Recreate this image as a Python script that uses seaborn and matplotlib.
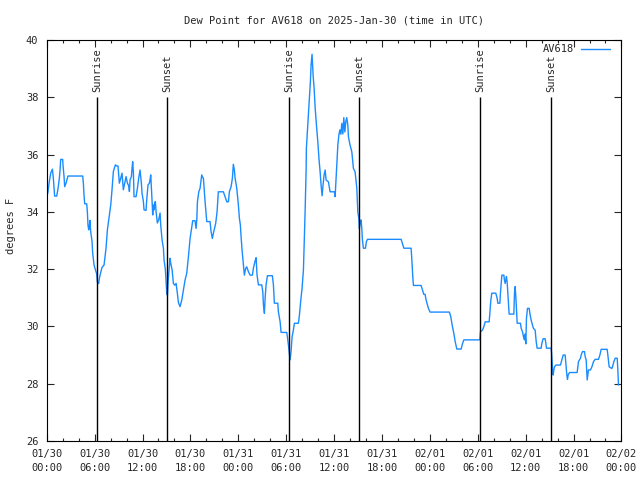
import pandas as pd
import numpy as np
import matplotlib
matplotlib.use("Agg")
import matplotlib.pyplot as plt
import matplotlib.dates as mdates
import seaborn as sns

# hours after 2025-01-30 00:00 UTC and dew point (deg F)
hours = [0.05, 0.16, 0.29, 0.50, 0.71, 0.83, 0.99, 1.25, 1.42, 1.58, 1.67, 1.75, 2.00, 2.04, 2.17, 2.25,
         2.42, 2.58, 2.67, 4.51, 4.59, 4.67, 4.76, 5.01, 5.09, 5.17, 5.26, 5.34, 5.42, 5.51, 5.68,
         5.76, 5.93, 6.09, 6.26, 6.34, 6.51, 6.60, 6.76, 6.93, 7.18, 7.43, 7.60, 7.85, 8.02, 8.18,
         8.35, 8.60, 8.77, 8.93, 9.02, 9.10, 9.27, 9.43, 9.60, 9.77, 9.94, 10.11, 10.27, 10.36,
         10.44, 10.61, 10.69, 10.77, 10.86, 10.94, 11.19, 11.36, 11.52, 11.69, 11.77, 11.86, 11.94,
         12.11, 12.19, 12.44, 12.53, 12.69, 12.86, 12.94, 13.03, 13.11, 13.19, 13.28, 13.36, 13.45,
         13.53, 13.61, 13.70, 13.86, 14.03, 14.20, 14.28, 14.45, 14.62, 14.70, 14.87, 14.95, 15.04,
         15.12, 15.20, 15.37, 15.45, 15.54, 15.71, 15.87, 16.04, 16.21, 16.37, 16.50, 16.70, 16.92,
         17.12, 17.33, 17.54, 17.75, 17.96, 18.17, 18.29, 18.58, 18.71, 18.80, 18.88, 19.05, 19.21,
         19.42, 19.55, 19.63, 19.84, 20.05, 20.46, 20.59, 20.75, 20.88, 21.17, 21.34, 21.50, 22.13,
         22.34, 22.56, 22.76, 22.88, 23.10, 23.26, 23.38, 23.51, 23.60, 23.81, 24.01, 24.14, 24.26,
         24.35, 24.47, 24.64, 24.76, 24.93, 25.06, 25.27, 25.48, 25.77, 25.89, 26.10, 26.23, 26.35,
         26.52, 26.94, 27.07, 27.15, 27.27, 27.36, 27.48, 27.65, 28.27, 28.40, 28.52, 28.95, 29.02,
         29.24, 29.36, 30.07, 30.15, 30.28, 30.49, 30.61, 30.74, 30.90, 31.03, 31.53, 31.66, 31.83,
         31.99, 32.16, 32.28, 32.37, 32.50, 32.53, 32.70, 32.87, 33.03, 33.12, 33.24, 33.37, 33.50,
         33.62, 33.79, 33.96, 34.12, 34.25, 34.37, 34.50, 34.62, 34.75, 34.88, 35.00, 35.29, 35.50,
         36.04, 36.13, 36.30, 36.47, 36.60, 36.72, 36.85, 36.97, 37.10, 37.22, 37.35, 37.47, 37.59,
         37.72, 37.80, 38.00, 38.22, 38.42, 38.63, 38.85, 38.97, 39.10, 39.17, 39.26, 39.38, 39.47,
         39.55, 39.67, 39.93, 40.05, 40.18, 44.40, 44.56, 44.74, 45.65, 45.73, 45.86, 45.94, 46.90,
         47.07, 47.24, 47.40, 47.53, 47.70, 47.82, 48.03, 50.45, 50.62, 50.79, 51.00, 51.17, 51.38,
         51.92, 52.08, 52.26, 54.26, 54.34, 54.59, 54.76, 54.93, 55.43, 55.51, 55.64, 55.76, 56.26,
         56.43, 56.52, 56.77, 56.84, 56.93, 57.02, 57.27, 57.34, 57.43, 57.52, 57.59, 57.68, 57.77,
         57.85, 57.93, 58.52, 58.60, 58.68, 58.77, 58.85, 58.94, 59.35, 59.44, 59.60, 59.73, 59.85,
         59.94, 60.02, 60.10, 60.23, 60.44, 60.56, 60.69, 60.85, 60.98, 61.19, 61.32, 61.44, 61.94,
         62.03, 62.19, 62.44, 62.53, 62.61, 63.20, 63.28, 63.37, 63.45, 63.53, 63.61, 63.78, 64.36,
         64.54, 64.70, 64.95, 65.04, 65.16, 65.24, 65.32, 65.49, 66.45, 66.54, 66.62, 66.87, 66.95,
         67.12, 67.37, 67.46, 67.58, 67.71, 67.79, 67.87, 68.12, 68.30, 68.50, 68.71, 69.12, 69.30,
         69.46, 70.21, 70.30, 70.46, 70.80, 70.88, 71.05, 71.22, 71.47, 71.55, 71.63]
dewpoint = [34.55, 34.70, 35.00, 35.35, 35.49, 35.17, 34.55, 34.55, 34.82, 35.17, 35.46, 35.83, 35.83, 35.63, 35.23, 34.88,
            35.00, 35.17, 35.25, 35.25, 35.00, 34.59, 34.28, 34.28, 34.01, 33.54, 33.37, 33.49, 33.70, 33.31, 32.96,
            32.55, 32.14, 31.99, 31.83, 31.56, 31.50, 31.68, 31.88, 32.06, 32.14, 32.73, 33.37, 33.89, 34.24, 34.77,
            35.41, 35.64, 35.60, 35.60, 35.29, 35.00, 35.17, 35.35, 34.77, 35.00, 35.23, 35.00, 34.91, 34.71,
            35.12, 35.23, 35.52, 35.75, 35.35, 34.53, 34.53, 34.82, 35.17, 35.46, 35.23, 35.00, 34.65,
            34.36, 34.07, 34.05, 34.42, 34.94, 35.00, 35.12, 35.29, 34.88, 34.42, 33.89, 34.24, 34.07,
            34.30, 34.36, 34.01, 33.61, 33.72, 33.96, 33.55, 33.02, 32.73, 32.32, 31.97, 31.56, 31.15,
            31.09, 31.56, 32.14, 32.38, 32.20, 31.97, 31.50, 31.44, 31.50, 31.15, 30.83, 30.69, 30.92,
            31.27, 31.62, 31.85, 32.43, 33.07, 33.48, 33.69, 33.69, 33.42, 33.72, 34.35, 34.70, 34.82,
            35.29, 35.20, 35.17, 34.35, 33.66, 33.66, 33.31, 33.07, 33.25, 33.60, 34.00, 34.70, 34.70,
            34.53, 34.35, 34.35, 34.70, 34.88, 35.17, 35.66, 35.46, 35.17, 34.82, 34.24, 33.77, 33.54,
            33.13, 32.67, 32.14, 31.79, 32.03, 32.08, 31.91, 31.79, 31.79, 32.03, 32.28, 32.40, 31.79,
            31.45, 31.45, 31.21, 30.75, 30.46, 30.98, 31.45, 31.77, 31.77, 31.45, 30.81, 30.81, 30.51,
            30.16, 29.79, 29.79, 29.64, 29.35, 28.83, 29.12, 29.64, 29.87, 30.11, 30.11, 30.40, 30.92,
            31.33, 31.97, 33.07, 34.00, 35.50, 36.22, 37.03, 37.79, 38.54, 39.13, 39.50, 38.78, 38.31,
            37.67, 37.03, 36.45, 35.81, 35.40, 34.94, 34.56, 34.94, 35.29, 35.46, 35.11, 35.05, 34.70,
            34.70, 34.53, 35.40, 36.33, 36.68, 36.86, 36.71, 37.09, 36.72, 37.29, 36.79, 37.15, 37.29,
            37.03, 36.62, 36.33, 36.10, 35.52, 35.40, 34.82, 34.00, 33.77, 33.42, 33.60, 33.72, 33.43,
            33.02, 32.73, 32.73, 32.96, 33.04, 33.04, 32.90, 32.73, 32.73, 32.38, 31.74, 31.43, 31.43,
            31.27, 31.12, 31.12, 30.92, 30.75, 30.63, 30.50, 30.50, 30.34, 30.05, 29.76, 29.47, 29.21,
            29.21, 29.39, 29.53, 29.53, 29.82, 29.87, 29.99, 30.16, 30.16, 30.46, 30.92, 31.16, 31.16,
            30.98, 30.81, 30.81, 31.16, 31.50, 31.79, 31.79, 31.62, 31.50, 31.62, 31.74, 31.56, 31.16,
            30.75, 30.43, 30.43, 31.16, 31.39, 31.04, 30.63, 30.11, 30.11, 29.93, 29.82, 29.64, 29.53,
            29.73, 29.39, 30.28, 30.63, 30.63, 30.40, 30.22, 30.05, 29.93, 29.87, 29.47, 29.24, 29.24,
            29.41, 29.57, 29.57, 29.41, 29.24, 29.24, 28.94, 28.48, 28.30, 28.48, 28.59, 28.65, 28.65,
            28.83, 29.00, 29.00, 28.71, 28.30, 28.15, 28.30, 28.39, 28.39, 28.59, 28.77, 28.89, 29.00,
            29.12, 29.12, 28.94, 28.83, 28.13, 28.30, 28.48, 28.48, 28.59, 28.77, 28.85, 28.85, 29.00,
            29.20, 29.20, 29.00, 28.59, 28.53, 28.59, 28.77, 28.89, 28.89, 28.48, 27.95]

# sunrise / sunset markers (hours after start)
event_hours = [6.35, 15.12, 30.38, 39.15, 54.33, 63.22]
event_labels = ["Sunrise", "Sunset", "Sunrise", "Sunset", "Sunrise", "Sunset"]

tick_hours = list(range(0, 73, 6))
tick_labels = ["01/30\n00:00", "01/30\n06:00", "01/30\n12:00", "01/30\n18:00",
               "01/31\n00:00", "01/31\n06:00", "01/31\n12:00", "01/31\n18:00",
               "02/01\n00:00", "02/01\n06:00", "02/01\n12:00", "02/01\n18:00",
               "02/02\n00:00"]

start = pd.Timestamp("2025-01-30 00:00")
df = pd.DataFrame({"time": start + pd.to_timedelta(hours, unit="h"), "dewpoint": dewpoint})

sns.set_style("ticks")
plt.rcParams["font.family"] = ["DejaVu Sans Mono"]
plt.rcParams["font.size"] = 7

fig = plt.figure(figsize=(6.4, 4.8), dpi=100)
ax = fig.add_axes([0.073, 0.0813, 0.898, 0.8354])

sns.lineplot(data=df, x="time", y="dewpoint", ax=ax, color="#1a8cff", linewidth=1.0,
             label="AV618", sort=False)

event_times = start + pd.to_timedelta(event_hours, unit="h")
ax.vlines(event_times, 26, 38, color="black", linewidth=1.0)
for t, lab in zip(event_times, event_labels):
    ax.text(t, 38.18, lab, rotation=90, ha="center", va="bottom", fontsize=7.5)

ax.set_xlim(start, start + pd.Timedelta(hours=72))
ax.set_ylim(26, 40)
ax.set_xticks(start + pd.to_timedelta(tick_hours, unit="h"))
ax.set_xticklabels(tick_labels, linespacing=1.45)
ax.xaxis.set_minor_locator(mdates.HourLocator(interval=2))
ax.set_yticks(range(26, 41, 2))

ax.tick_params(which="both", direction="in", top=True, right=True, labelsize=7.5, width=0.8)
ax.tick_params(which="major", length=5, pad=6)
ax.tick_params(which="minor", length=2.5)
for s in ax.spines.values():
    s.set_linewidth(0.8)
    s.set_color("black")

ax.set_xlabel("")
ax.set_ylabel("")
fig.text(0.017, 0.53, "degrees F", rotation=90, ha="center", va="center", fontsize=7.5)
ax.set_title("Dew Point for AV618 on 2025-Jan-30 (time in UTC)", fontsize=7.5, pad=12)

ax.legend(loc="upper right", bbox_to_anchor=(0.987, 1.0), frameon=False, markerfirst=False,
          handlelength=2.8, fontsize=7.5, borderaxespad=0.1, handletextpad=0.6, borderpad=0.3)

fig.savefig("out.png", dpi=100)
